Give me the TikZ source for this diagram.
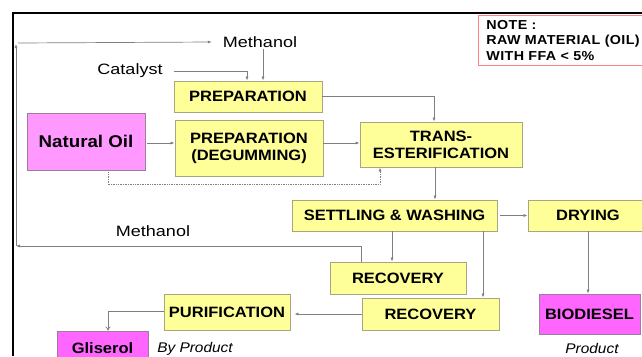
\documentclass[tikz,border=0pt]{standalone}
\usepackage{fontspec}
\setmainfont{Liberation Sans}
\newfontfamily\wideface[FakeStretch=1.1]{Liberation Sans}
\newfontfamily\widerface[FakeStretch=1.2]{Liberation Sans}
\usetikzlibrary{positioning,arrows.meta}
\definecolor{ink}{HTML}{000000}
\definecolor{wire}{HTML}{7F7F7F}
\definecolor{pale}{HTML}{FFFF99}
\definecolor{paleline}{HTML}{A6A680}
\definecolor{pinkA}{HTML}{FF99FF}
\definecolor{pinkB}{HTML}{FF66FF}
\definecolor{pinkline}{HTML}{9E7C9E}
\definecolor{notered}{HTML}{FF8080}
\tikzset{
  stage/.style={draw=paleline, line width=0.8pt, fill=pale, align=center,
                font=\wideface\bfseries\fontsize{15}{17}\selectfont, inner sep=2pt},
  prod/.style={draw=pinkline, line width=0.8pt, fill=pinkB, align=center,
               font=\wideface\bfseries\fontsize{15}{17}\selectfont, inner sep=2pt},
  lbl/.style={font=\widerface\fontsize{15}{17}\selectfont, inner sep=1pt},
  tag/.style={font=\wideface\itshape\fontsize{14}{16}\selectfont, inner sep=1pt},
  flow/.style={-{Latex[length=4pt,width=3pt]}, line width=0.7pt, draw=wire},
  feed/.style={flow, densely dotted},
  % ---- frame and note ----
  frameline/.style={line width=1.2pt, draw=ink},
  notebox/.style={draw=notered, line width=0.8pt, align=left, anchor=north west,
                  font=\wideface\bfseries\fontsize{13}{15.5}\selectfont\addfontfeature{LetterSpace=3},
                  text width=165pt, inner xsep=8pt, inner ysep=5pt},
}
\begin{document}
\begin{tikzpicture}[x=1pt,y=-1pt]
\useasboundingbox (0,0) rectangle (642,356);
\fill[white] (0,0) rectangle (642,356);
% note in the corner
\node[notebox] (note) at (478,15) {NOTE :\\RAW MATERIAL (OIL)\\WITH FFA {<} 5\%};
\draw[frameline] (13,356) -- (13,13) -- (642,13);
% ---- inputs ----
\node[lbl] (meth1) at (260,42) {Methanol};
\node[lbl] (cat) at (130,71) {Catalyst};
\node[prod, fill=pinkA, minimum width=118pt, minimum height=57pt,
      font=\wideface\bfseries\fontsize{17}{19}\selectfont] (oil) at (86,141.5) {Natural Oil};
% ---- process stages ----
\node[stage, minimum width=148pt, minimum height=31pt] (prep) at (248,96.5) {PREPARATION};
\node[stage, minimum width=148pt, minimum height=56pt] (degum) at (249,148) {PREPARATION\\(DEGUMMING)};
\node[stage, minimum width=162pt, minimum height=45pt] (trans) at (441,144.5) {TRANS-\\ESTERIFICATION};
\node[stage, minimum width=205pt, minimum height=31pt] (settle) at (394.5,215.5) {SETTLING \& WASHING};
\node[stage, minimum width=120pt, minimum height=31pt] (dry) at (588,215.5) {DRYING};
\node[stage, minimum width=136pt, minimum height=32pt] (rec1) at (398,278) {RECOVERY};
\node[stage, minimum width=137pt, minimum height=32pt] (rec2) at (430.5,314) {RECOVERY};
\node[stage, minimum width=126pt, minimum height=36pt] (purif) at (227,312) {PURIFICATION};
% ---- outputs ----
\node[prod, minimum width=101pt, minimum height=40pt] (bio) at (589.5,314) {BIODIESEL};
\node[prod, minimum width=91pt, minimum height=34pt] (glis) at (102.5,348) {Gliserol};
\node[tag] (prodtag) at (592,348) {Product};
\node[tag] (bytag) at (195,349) {By Product};
\node[lbl] (meth2) at (153,231) {Methanol};
% ---- connectors ----
\draw[flow, shorten <=10pt] (cat.east) -| ([xshift=-1pt]prep.north);
\draw[flow] ([xshift=3pt]meth1.south) -- ([xshift=15pt]prep.north);
\draw[flow] (prep.east) -| ([xshift=-7pt]trans.north);
\draw[flow, shorten <=2pt] (oil.east |- 0,143) -- (degum.west |- 0,143);
\draw[flow] (degum.east |- 0,143) -- (trans.west |- 0,143);
\draw[feed] ([xshift=22pt]oil.south) -- ++(0,14) -| ([xshift=-61pt]trans.south);
\draw[flow] ([xshift=-6pt]trans.south) -- ([xshift=-6pt]trans.south |- settle.north);
\draw[flow, shorten <=3pt] (settle.east) -- (dry.west);
\draw[flow] ([xshift=-2.5pt]settle.south) -- ([xshift=-2.5pt]settle.south |- rec1.north);
\draw[flow] ([xshift=88.5pt]settle.south) -- ([xshift=88.5pt]settle.south |- rec2.north);
\draw[flow] (dry.south) -- (dry.south |- bio.north);
\draw[flow, shorten >=4pt] (rec2.west) -- (rec2.west -| purif.east);
\draw[-{To[length=4pt,width=5pt]}, line width=0.7pt, draw=wire]
  (purif.west |- 0,311) -| ([xshift=5.5pt]glis.north);
% methanol return loop
\coordinate (loopa) at (16,246);
\coordinate (loopb) at (16,44);
\coordinate (loopc) at (18,43);
\draw[flow] ([xshift=-37pt]rec1.north) |- (loopa);
\draw[flow] (loopa) -- (loopb);
\draw[flow] (loopc) -- ([xshift=-10pt]meth1.west);
\end{tikzpicture}
\end{document}
